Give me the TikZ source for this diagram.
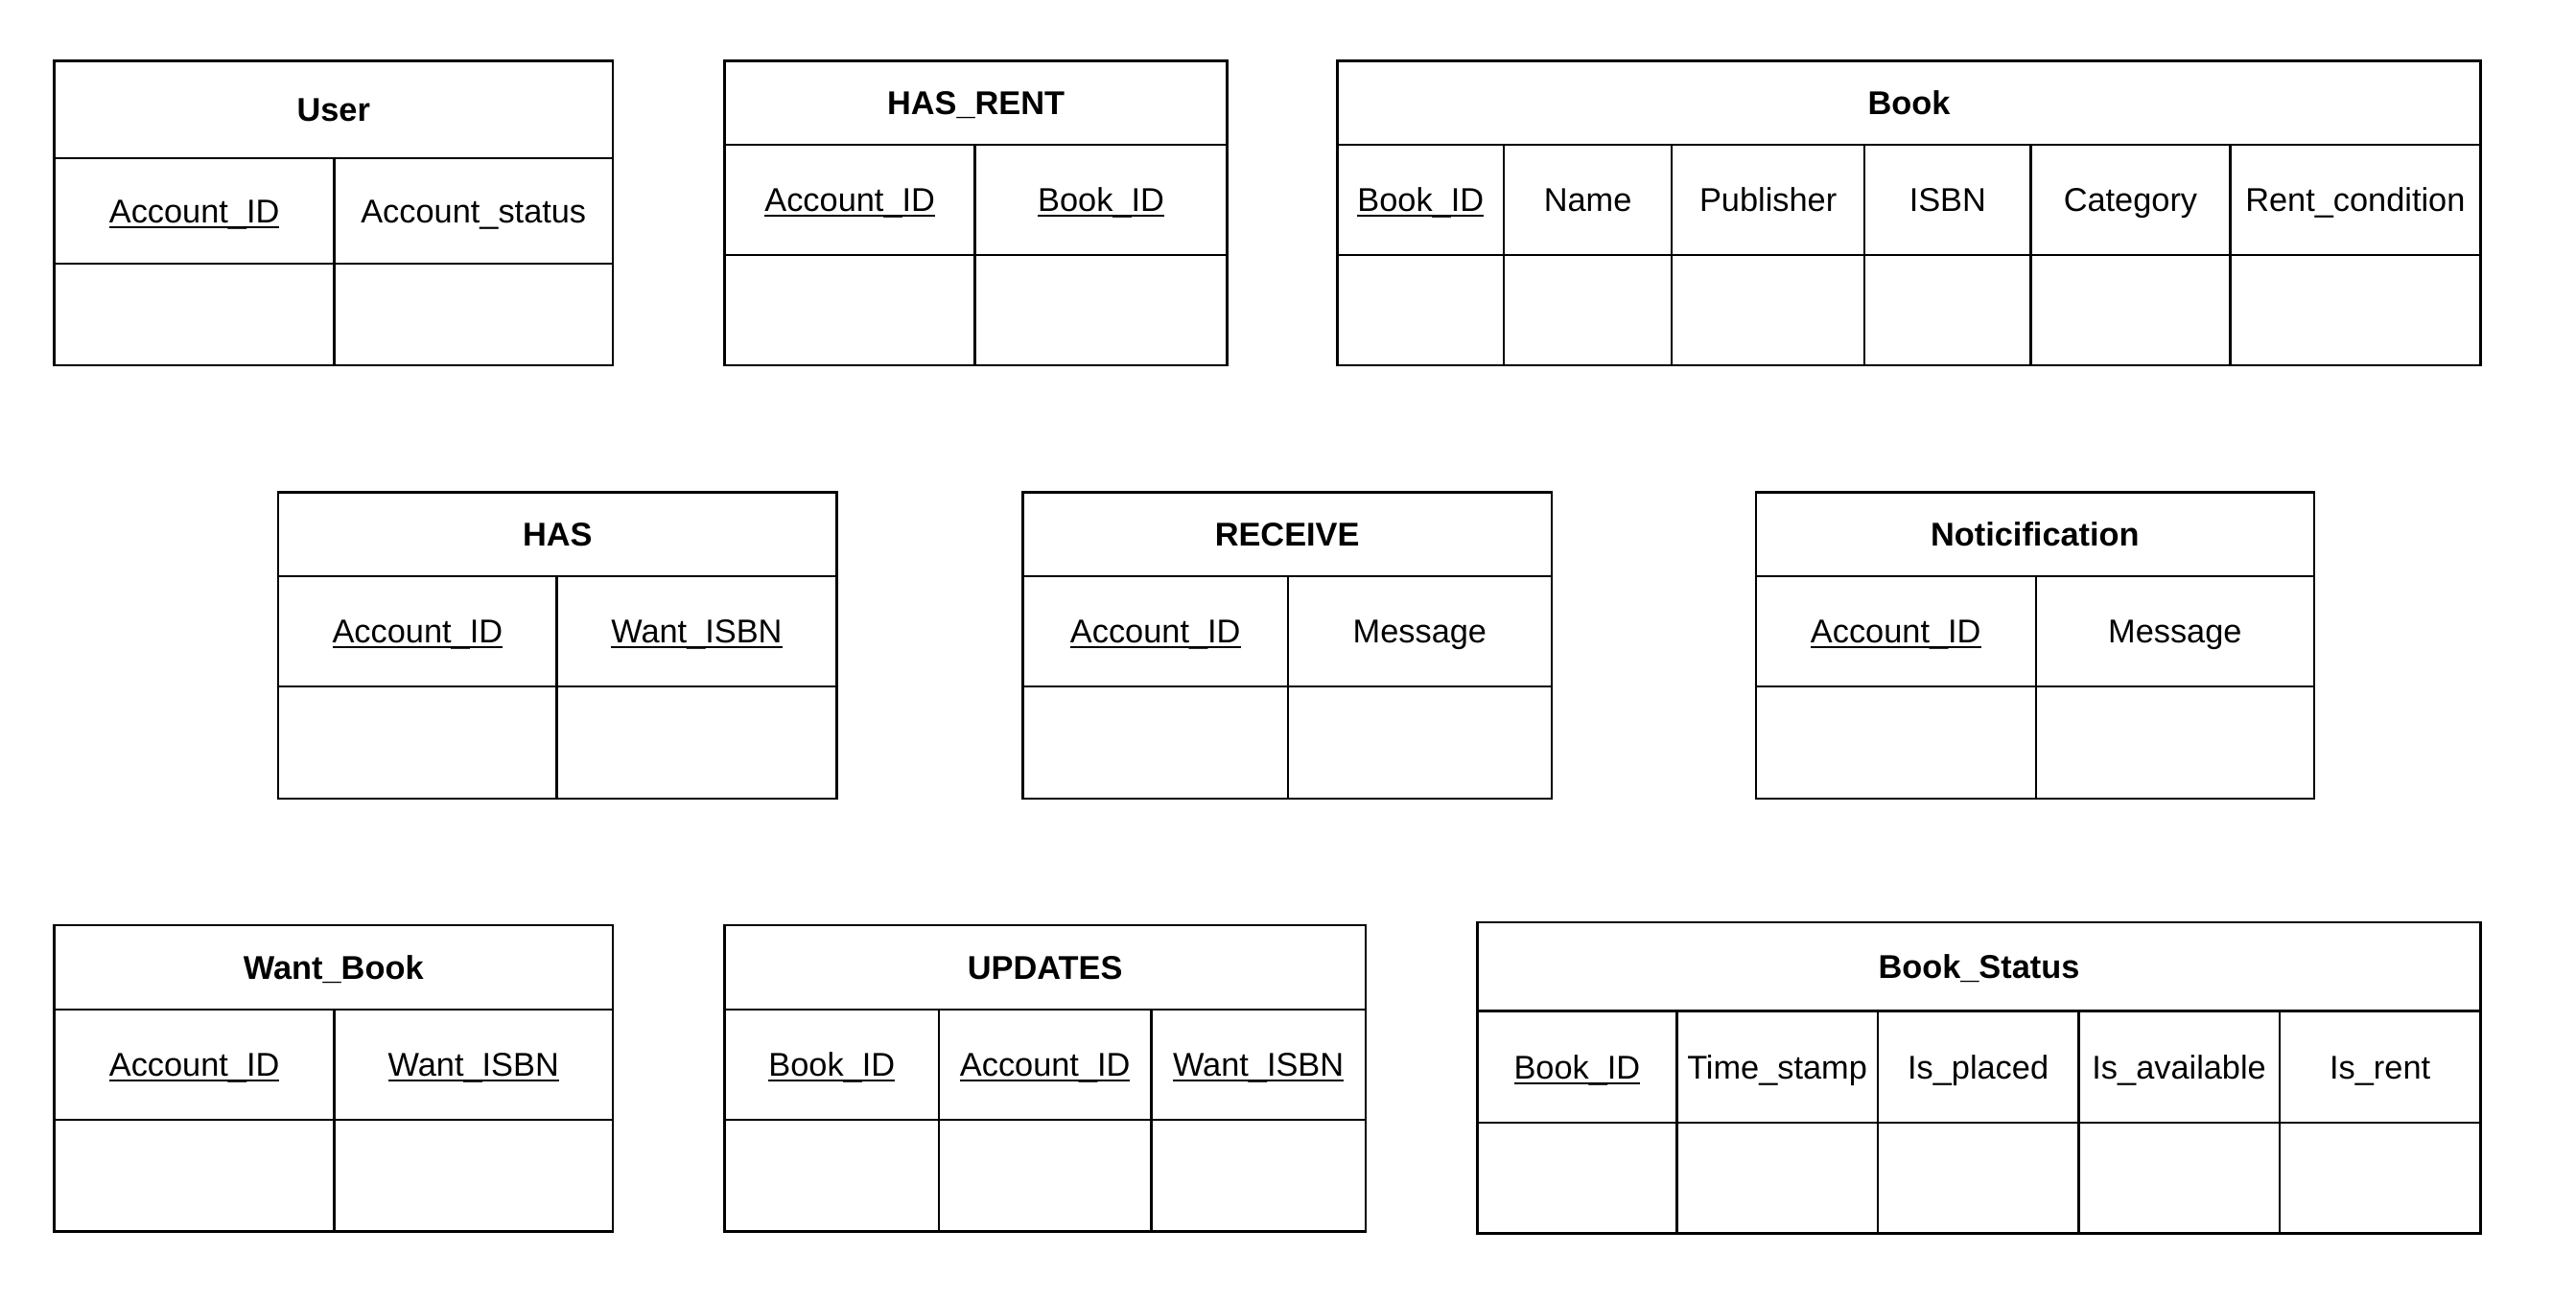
\documentclass[tikz,border=0pt]{standalone}
\usepackage{fontspec}
\setmainfont{Liberation Sans}
\newcommand{\keyattr}[1]{\setbox0\hbox{#1}\rlap{\rule[-0.16em]{\wd0}{0.06em}}\box0}

\begin{document}
\begin{tikzpicture}[x=0.6pt,y=-0.6pt,
  tbl/.style={line width=0.85pt},
  ttl/.style={font=\fontsize{12}{14}\selectfont\bfseries,text height=8.6pt,text depth=0pt,inner sep=0pt},
  fld/.style={font=\fontsize{12}{14}\selectfont,text height=8.6pt,text depth=0pt,inner sep=0pt}]
\useasboundingbox (0,0) rectangle (1564,790);

% top row
\draw[tbl] (33,37) rectangle (372,222) (33,96) -- (372,96) (33,160) -- (372,160) (203,96) -- (203,222);
\node[ttl] (user) at (202.5,66.5) {User};
\foreach \x/\t [count=\i] in {118/{\keyattr{Account\_ID}},287.5/Account\_status}
  {\node[fld] (user-\i) at (\x,128) {\t};}

\draw[tbl] (440,37) rectangle (745,222) (440,88) -- (745,88) (440,155) -- (745,155) (592,88) -- (592,222);
\node[ttl] (hasrent) at (592.5,62.5) {HAS\_RENT};
\foreach \x/\t [count=\i] in {516/{\keyattr{Account\_ID}},668.5/{\keyattr{Book\_ID}}}
  {\node[fld] (hasrent-\i) at (\x,121.5) {\t};}

\draw[tbl] (812,37) rectangle (1506,222) (812,88) -- (1506,88) (812,155) -- (1506,155);
\foreach \x in {913,1015,1132,1233,1354}
  {\draw[tbl] (\x,88) -- (\x,222);}
\node[ttl] (book) at (1159,62.5) {Book};
\foreach \x/\t [count=\i] in {862.5/{\keyattr{Book\_ID}},964/Name,1073.5/Publisher,1182.5/ISBN,1293.5/Category,1430/Rent\_condition}
  {\node[fld] (book-\i) at (\x,121.5) {\t};}

% middle row
\draw[tbl] (169,299) rectangle (508,485) (169,350) -- (508,350) (169,417) -- (508,417) (338,350) -- (338,485);
\node[ttl] (has) at (338.5,324.5) {HAS};
\foreach \x/\t [count=\i] in {253.5/{\keyattr{Account\_ID}},423/{\keyattr{Want\_ISBN}}}
  {\node[fld] (has-\i) at (\x,383.5) {\t};}

\draw[tbl] (621,299) rectangle (942,485) (621,350) -- (942,350) (621,417) -- (942,417) (782,350) -- (782,485);
\node[ttl] (receive) at (781.5,324.5) {RECEIVE};
\foreach \x/\t [count=\i] in {701.5/{\keyattr{Account\_ID}},862/Message}
  {\node[fld] (receive-\i) at (\x,383.5) {\t};}

\draw[tbl] (1066,299) rectangle (1405,485) (1066,350) -- (1405,350) (1066,417) -- (1405,417) (1236,350) -- (1236,485);
\node[ttl] (notice) at (1235.5,324.5) {Noticification};
\foreach \x/\t [count=\i] in {1151/{\keyattr{Account\_ID}},1320.5/Message}
  {\node[fld] (notice-\i) at (\x,383.5) {\t};}

% bottom row
\draw[tbl] (33,562) rectangle (372,748) (33,613) -- (372,613) (33,680) -- (372,680) (203,613) -- (203,748);
\node[ttl] (wantbook) at (202.5,587.5) {Want\_Book};
\foreach \x/\t [count=\i] in {118/{\keyattr{Account\_ID}},287.5/{\keyattr{Want\_ISBN}}}
  {\node[fld] (wantbook-\i) at (\x,646.5) {\t};}

\draw[tbl] (440,562) rectangle (829,748) (440,613) -- (829,613) (440,680) -- (829,680);
\foreach \x in {570,699}
  {\draw[tbl] (\x,613) -- (\x,748);}
\node[ttl] (updates) at (634.5,587.5) {UPDATES};
\foreach \x/\t [count=\i] in {505/{\keyattr{Book\_ID}},634.5/{\keyattr{Account\_ID}},764/{\keyattr{Want\_ISBN}}}
  {\node[fld] (updates-\i) at (\x,646.5) {\t};}

\draw[tbl] (897,560) rectangle (1506,749) (897,614) -- (1506,614) (897,682) -- (1506,682);
\foreach \x in {1018,1140,1262,1384}
  {\draw[tbl] (\x,614) -- (\x,749);}
\node[ttl] (bookstatus) at (1201.5,587) {Book\_Status};
\foreach \x/\t [count=\i] in {957.5/{\keyattr{Book\_ID}},1079/Time\_stamp,1201/Is\_placed,1323/Is\_available,1445/Is\_rent}
  {\node[fld] (bookstatus-\i) at (\x,648) {\t};}
\end{tikzpicture}
\end{document}
